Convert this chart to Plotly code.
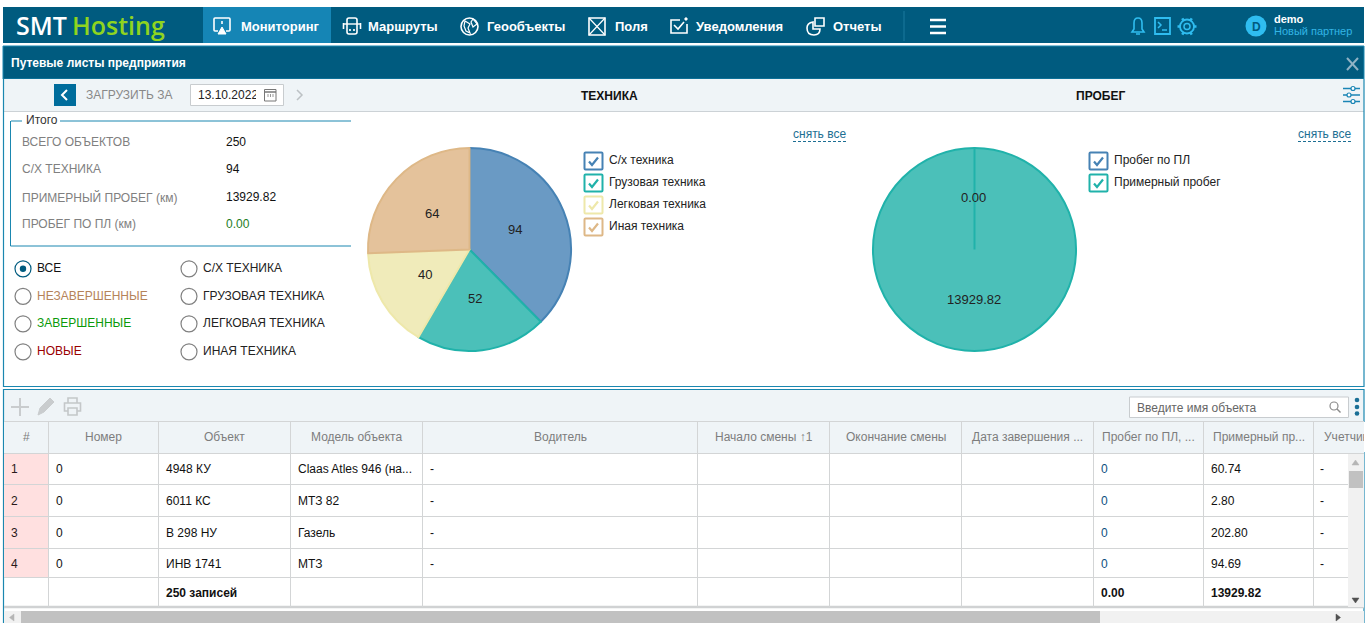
# Monitoring page with waybill pies, drawn in pixel coordinates of a 1366x623 window
import math
import plotly.graph_objects as go

W, H = 1366, 623
FONT = "Liberation Sans"

# chart data
tech_labels = ["С/х техника", "Грузовая техника", "Легковая техника", "Иная техника"]
tech_values = [94, 52, 40, 64]
mileage_labels = ["Пробег по ПЛ", "Примерный пробег"]
mileage_values = [0.00, 13929.82]

# text data
nav_items = ["Мониторинг", "Маршруты", "Геообъекты", "Поля", "Уведомления", "Отчеты"]
summary_labels = ["ВСЕГО ОБЪЕКТОВ", "С/Х ТЕХНИКА", "ПРИМЕРНЫЙ ПРОБЕГ (км)", "ПРОБЕГ ПО ПЛ (км)"]
summary_values = ["250", "94", "13929.82", "0.00"]
status_filters = ["ВСЕ", "НЕЗАВЕРШЕННЫЕ", "ЗАВЕРШЕННЫЕ", "НОВЫЕ"]
type_filters = ["С/Х ТЕХНИКА", "ГРУЗОВАЯ ТЕХНИКА", "ЛЕГКОВАЯ ТЕХНИКА", "ИНАЯ ТЕХНИКА"]

# table data
headers = ["#", "Номер", "Объект", "Модель объекта", "Водитель", "Начало смены ↑1", "Окончание смены",
           "Дата завершения ...", "Пробег по ПЛ, ...", "Примерный пр...", "Учетчик"]
row_num = ["1", "2", "3", "4"]
row_number = ["0", "0", "0", "0"]
row_object = ["4948 КУ", "6011 КС", "В 298 НУ", "ИНВ 1741"]
row_model = ["Claas Atles 946 (на...", "МТЗ 82", "Газель", "МТЗ"]
row_driver = ["-", "-", "-", "-"]
row_plan = ["0", "0", "0", "0"]
row_approx = ["60.74", "2.80", "202.80", "94.69"]
row_counter = ["-", "-", "-", "-"]
total_records = "250 записей"
total_plan = "0.00"
total_approx = "13929.82"

# colours
NAV = "#005b7f"
ACTIVE = "#1585b5"
EDGE = "#1a87b0"
TOOLBAR = "#eff4f7"
GRID = "#d3d5d6"
SKY = "#2fbdf0"
TECH_FILL = ["#6a9ac4", "#4bc0b9", "#f0ebba", "#e4c29b"]
TECH_LINE = ["#4682b4", "#20b2aa", "#eee8aa", "#deb887"]

shapes = []
notes = []


def rect(x0, y0, x1, y1, fill=None, line=None, lw=1):
    shapes.append(dict(type="rect", x0=x0, y0=y0, x1=x1, y1=y1, fillcolor=fill,
                       line=dict(color=line, width=lw if line else 0)))


def seg(x0, y0, x1, y1, color, lw=1, dash=None):
    shapes.append(dict(type="line", x0=x0, y0=y0, x1=x1, y1=y1, line=dict(color=color, width=lw, dash=dash)))


def circ(cx, cy, r, fill=None, line=None, lw=1):
    shapes.append(dict(type="circle", x0=cx - r, y0=cy - r, x1=cx + r, y1=cy + r, fillcolor=fill,
                       line=dict(color=line, width=lw if line else 0)))


def path(d, color, lw=1.5, fill=None):
    shapes.append(dict(type="path", path=d, fillcolor=fill, line=dict(color=color, width=lw)))


def txt(x, y, text, color="#111111", size=12, anchor="left", bold=False, family=FONT, weight=None):
    if bold:
        text = "<b>" + text + "</b>"
    font = dict(family=family, size=size, color=color)
    if weight:
        font["weight"] = weight
    notes.append(dict(x=x, y=y, text=text, showarrow=False, xanchor=anchor, yanchor="middle", borderpad=0,
                      borderwidth=0, font=font))


def cover(x0, y0, x1, y1, color):
    # blank box on top of a text, clips it like overflow hidden in the page
    notes.append(dict(x=(x0 + x1) / 2, y=(y0 + y1) / 2, text=" ", showarrow=False, width=x1 - x0, height=y1 - y0,
                      bgcolor=color, borderpad=0, borderwidth=0, xanchor="center", yanchor="middle"))


def checkbox(x, y, color):
    path(f"M{x + 1},{y} H{x + 17} Q{x + 18},{y} {x + 18},{y + 1} V{y + 16} Q{x + 18},{y + 17} {x + 17},{y + 17} "
         f"H{x + 1} Q{x},{y + 17} {x},{y + 16} V{y + 1} Q{x},{y} {x + 1},{y} Z", color, 2, "#ffffff")
    path(f"M{x + 4.5},{y + 9} L{x + 7.5},{y + 12.5} L{x + 13.5},{y + 5}", color, 2.2)


# ---- top navigation
rect(3, 7, 1364, 43, NAV)
rect(203, 7, 331, 43, ACTIVE)
txt(16, 25, "SMT", "#ffffff", 25, family="Open Sans", weight=600)
txt(72, 25, "Hosting", "#8fd41f", 25, family="Open Sans", weight=600)
for name, x in zip(nav_items, [241, 368, 487, 615, 696, 833]):
    txt(x, 26.5, name, "#ffffff", 13, bold=True)

# nav icons
path("M218,31 H215 Q214,31 214,30 V19 Q214,18 215,18 H229 Q230,18 230,19 V30 Q230,31 229,31 H226", "#ffffff", 1.6)
path("M222,27 L218,34 H226 Z", "#ffffff", 1, "#ffffff")
seg(222, 21, 222, 24, "#ffffff", 1.6)
path("M347,20 Q347,18 349,18 H355 Q357,18 357,20 V32 Q357,34 355,34 H349 Q347,34 347,32 Z", "#ffffff", 1.6)
seg(343.5, 23, 343.5, 29, "#ffffff", 1.6)
seg(360.5, 23, 360.5, 29, "#ffffff", 1.6)
seg(343.5, 24, 360.5, 24, "#ffffff", 1.4)
circ(350, 30, 0.7, "#ffffff", "#ffffff")
circ(354, 30, 0.7, "#ffffff", "#ffffff")
circ(469.5, 26.5, 8.5, None, "#ffffff", 1.6)
path("M465,21 L470,24 L468,28 L470,33 L466,31 L464,26 Z", "#ffffff", 1.2)
path("M473,19 L477,24 L473,27 L471,22 Z", "#ffffff", 1.2)
rect(589, 18, 605, 35, None, "#ffffff", 1.6)
path("M589,18 L605,35 M605,18 L589,35", "#ffffff", 1.2)
path("M680,20 H671 V33 H687 V24 M674,25 L678,29 L684,22", "#ffffff", 1.6)
circ(686, 19, 1.2, "#ffffff", "#ffffff")
path("M813,22 Q807,23 807,28 Q807,35 814,35 Q820,35 820,29 H813 Z", "#ffffff", 1.6)
rect(815, 18, 824, 26, None, "#ffffff", 1.6)
seg(904, 11, 904, 41, "#1a7a9f")
for y in [20, 26.5, 33]:
    seg(930, y, 946, y, "#ffffff", 2.5)

# right side icons
path("M1132,32 H1144 L1142,29 V23 Q1142,18 1138,18 Q1134,18 1134,23 V29 Z M1136,34 H1140", SKY, 1.6)
rect(1155, 18, 1170, 34, None, SKY, 1.8)
path("M1158,22 L1161,25 L1158,28 M1162,30 H1167", SKY, 1.5)
circ(1187, 26.5, 3, None, SKY, 1.5)
circ(1187, 26.5, 7, None, SKY, 1.8)
for a in range(0, 360, 60):
    seg(1187 + 7 * math.cos(math.radians(a)), 26.5 + 7 * math.sin(math.radians(a)),
        1187 + 9.5 * math.cos(math.radians(a)), 26.5 + 9.5 * math.sin(math.radians(a)), SKY, 2.5)
circ(1256, 26, 10.5, SKY)
txt(1256, 26.5, "D", NAV, 12, "center", True)
txt(1274, 19, "demo", "#ffffff", 11, bold=True)
txt(1274, 30.5, "Новый партнер", "#33b5e5", 11)

# ---- upper panel
rect(3, 46, 1364, 79, NAV, EDGE, 1)
txt(11, 62.5, "Путевые листы предприятия", "#ffffff", 12, bold=True)
seg(1347, 58, 1358, 70, "#8fb3c5", 2)
seg(1358, 58, 1347, 70, "#8fb3c5", 2)
rect(3.5, 79, 1364, 111, TOOLBAR)
seg(3, 111.5, 1364, 111.5, "#ccd2d6", 1)
seg(3.5, 79, 3.5, 387, EDGE, 1.2)
seg(1364, 79, 1364, 387, EDGE, 1.2)
seg(3, 386.5, 1364, 386.5, EDGE, 1.2)

rect(54, 84, 76, 106, "#006d9c")
path("M67,90 L62,95 L67,100", "#ffffff", 2)
txt(86, 95, "ЗАГРУЗИТЬ ЗА", "#888888")
rect(190.5, 84.5, 283.5, 105.5, "#ffffff", "#c8cccf")
txt(198, 95, "13.10.2022", "#222222")
cover(256.5, 87, 262, 103, "#ffffff")
rect(264.5, 89.5, 276, 101, None, "#777777", 1)
seg(264.5, 92, 276, 92, "#777777", 1.5)
for cx in [268, 270.5, 273]:
    seg(cx, 94, cx, 99.5, "#999999", 1, "dot")
path("M297,90 L302,95 L297,100", "#bcc1c4", 1.5)
txt(609, 95.5, "ТЕХНИКА", "#111111", 12, "center", True)
txt(1100.5, 95.5, "ПРОБЕГ", "#111111", 12, "center", True)
for y, cx in zip([88.5, 95, 101.5], [1353, 1349, 1353]):
    seg(1343, y, 1360, y, "#1a85b5", 1.5)
    circ(cx, y, 2, "#ffffff", "#1a85b5", 1.2)

# summary box
seg(11, 121, 22, 121, EDGE)
seg(60, 121, 351, 121, EDGE)
seg(10.5, 121, 10.5, 246, EDGE)
seg(10.5, 246, 351, 246, EDGE)
txt(26, 120, "Итого", "#333333")
for y, lab, val, col in zip([142, 169, 197, 224], summary_labels, summary_values,
                            ["#111111", "#111111", "#111111", "#1e7d1e"]):
    txt(22, y, lab, "#808080")
    txt(226, y, val, col)

# radio filters
status_colors = ["#111111", "#b5835a", "#0a9a0a", "#990000"]
for i, y in enumerate([268, 295.5, 323, 351]):
    circ(23, y + 0.8, 8, "#ffffff", NAV if i == 0 else "#808080", 1.2)
    circ(189, y + 0.8, 8, "#ffffff", "#808080", 1.2)
    txt(36.5, y, status_filters[i], status_colors[i])
    txt(202.5, y, type_filters[i], "#222222")
circ(23, 268.8, 3.2, NAV)

# legends of the pies
for y, lab, col in zip([152.5, 174.5, 196.5, 218.5], tech_labels, TECH_LINE):
    checkbox(584.5, y, col)
    txt(609, y + 7.5, lab, "#222222")
for y, lab, col in zip([152.5, 174.5], mileage_labels, TECH_LINE):
    checkbox(1089.5, y, col)
    txt(1114, y + 7.5, lab, "#222222")
for x in [793, 1298]:
    txt(x, 134, "снять все", "#1d6f93")
    seg(x, 141.5, x + 53, 141.5, "#1d6f93", 1, "3px,2px")

# ---- table panel
seg(3, 389.5, 1364, 389.5, EDGE, 1.2)
rect(3.5, 390, 1364, 421, TOOLBAR)
seg(3.5, 389, 3.5, 623, EDGE, 1.2)
seg(1364, 389, 1364, 623, EDGE, 1.2)
seg(11, 407, 29, 407, "#c9ccce", 2)
seg(20, 398, 20, 416, "#c9ccce", 2)
path("M38,415 L40,408 L50,398 L54,402 L44,412 Z", "#c9ccce", 1, "#c9ccce")
path("M68,403 V398 H77 V403 M68,411 H64.5 V403 H80.5 V411 H77 M68,408 H77 V415 H68 Z", "#c4c7c9", 1.6)
rect(1129.5, 397, 1348.5, 417.5, "#ffffff", "#c8cccf")
txt(1136.5, 407.5, "Введите имя объекта", "#666666")
circ(1334, 406, 4, None, "#8a8a8a", 1.2)
seg(1337, 409, 1340.5, 412.5, "#8a8a8a", 1.4)
for y in [400, 407, 413.5]:
    circ(1357, y, 2.3, "#1a6f96")

col_edges = [3.5, 48.5, 158.5, 290.5, 422.5, 697.5, 829.5, 961.5, 1093.5, 1203.5, 1313.5]
row_lines = [453.5, 484.5, 516.5, 548.5, 577.5]
rect(4, 421, 1364, 453, TOOLBAR)
rect(4, 454, 48, 577, "#ffe0e0")
seg(4, 421.5, 1364, 421.5, GRID)
seg(4, 453.5, 1364, 453.5, GRID)
for y in row_lines[1:]:
    seg(4, y, 1348, y, GRID)
seg(4, 607, 1364, 607, "#d0d2d3", 2.5)
for x in col_edges[1:]:
    seg(x, 421, x, 607, GRID)

for i, head in enumerate(headers[:-1]):
    txt((col_edges[i] + col_edges[i + 1]) / 2, 437, head, "#7d7d7d", 12, "center")
txt(1324, 437, headers[-1], "#7d7d7d")
cover(1364.5, 422, 1366, 452, "#ffffff")

row_y = [469, 501, 533, 564]
for i, y in enumerate(row_y):
    txt(11, y, row_num[i], "#2a1a1a")
    txt(56, y, row_number[i])
    txt(166, y, row_object[i])
    txt(298, y, row_model[i])
    txt(430, y, row_driver[i])
    txt(1101, y, row_plan[i], "#0d4f80")
    txt(1211, y, row_approx[i])
    txt(1320, y, row_counter[i])
txt(166, 592.5, total_records, bold=True)
txt(1101, 592.5, total_plan, bold=True)
txt(1211, 592.5, total_approx, bold=True)

# scrollbars
rect(1348, 454, 1364, 607, "#f1f1f1")
rect(1349, 471, 1363, 488, "#c1c1c1")
path("M1352,465 L1355.5,460 L1359,465 Z", "#b5b5b5", 0.5, "#b5b5b5")
path("M1352,598 L1355.5,603 L1359,598 Z", "#505050", 0.5, "#505050")
rect(4, 611, 1364, 623, "#f1f1f1")
rect(21, 611, 1100, 623, "#c1c1c1")
path("M14,614 L9.5,617.5 L14,621 Z", "#b5b5b5", 0.5, "#b5b5b5")
path("M1336,614 L1340.5,617.5 L1336,621 Z", "#505050", 0.5, "#505050")

# ---- pies
fig = go.Figure()
fig.add_trace(go.Scatter(x=[None], y=[None], hoverinfo="skip", showlegend=False))
PIE_CY, PIE_R = 249.5, 101.5


def add_pie(cx, labels, values, fills, lines, fmt):
    fig.add_trace(go.Pie(labels=labels, values=values, sort=False, direction="clockwise", rotation=0,
                         textinfo="none", hoverinfo="skip", showlegend=False,
                         marker=dict(colors=fills, line=dict(color=lines, width=2)),
                         domain=dict(x=[(cx - PIE_R) / W, (cx + PIE_R) / W],
                                     y=[1 - (PIE_CY + PIE_R) / H, 1 - (PIE_CY - PIE_R) / H])))
    # labels sit halfway along the radius of each slice
    total = sum(values)
    start = 0
    for v, col in zip(values, lines):
        mid = (start + v / 2) / total * 2 * math.pi
        txt(cx - 1 + PIE_R / 2 * math.sin(mid), PIE_CY - 1 - PIE_R / 2 * math.cos(mid), fmt.format(v), "#222222", 13,
            "center")
        # an empty slice is only its border, plotly leaves it out
        if v == 0:
            seg(cx, PIE_CY, cx + PIE_R * math.sin(mid), PIE_CY - PIE_R * math.cos(mid), col, 2)
        start += v


add_pie(469.5, tech_labels, tech_values, TECH_FILL, TECH_LINE, "{:.0f}")
add_pie(974.5, mileage_labels, mileage_values, ["#4bc0b9", "#4bc0b9"], ["#20b2aa", "#20b2aa"], "{:.2f}")

fig.update_layout(width=W, height=H, margin=dict(l=0, r=0, t=0, b=0), paper_bgcolor="#ffffff",
                  plot_bgcolor="#ffffff", shapes=shapes, annotations=notes,
                  xaxis=dict(range=[0, W], visible=False, fixedrange=True),
                  yaxis=dict(range=[H, 0], visible=False, fixedrange=True))
# the radial line of the empty slice has to stay on top of the pie
for s in fig.layout.shapes:
    s.layer = "below"
fig.layout.shapes[-1].layer = "above"
fig.write_html("out.html", config=dict(displayModeBar=False, staticPlot=True),
               post_script="document.body.style.margin='0';document.body.style.overflow='hidden';")
